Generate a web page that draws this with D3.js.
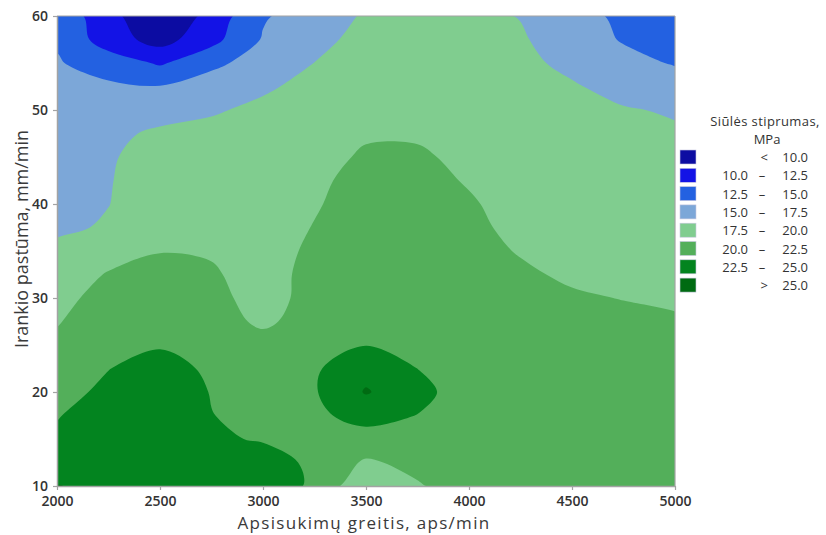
<!DOCTYPE html>
<html>
<head>
<meta charset="utf-8">
<script src="https://cdn.jsdelivr.net/npm/d3@7"></script>
<style>
  body { margin: 0; background: #fff; }
  svg { display: block; font-family: "Open Sans", "Noto Sans", sans-serif; }
</style>
</head>
<body>
<svg id="chart" width="826" height="535"></svg>
<script>
// Spindle speed (aps/min) grid columns
const speeds = [2000, 2250, 2500, 2750, 3000, 3250, 3500, 3750, 4000, 4250, 4500, 4750, 5000];
// Tool feed (mm/min) grid rows
const feeds = [10, 12.5, 15, 17.5, 20, 22.5, 25, 27.5, 30, 32.5, 35, 37.5, 40, 42.5, 45, 47.5, 50, 52.5, 55, 57.5, 60];

// Seam strength, MPa: one row per feed value (bottom row first), one value per speed
const strengthRows = [
  [25.08, 24.4, 24.6, 23.6, 24.3, 21.98, 18.0, 19.8, 21.0, 21.2, 21.3, 21.4, 21.5],
  [23.5, 24.3, 24.6, 23.4, 24.1, 21.75, 19.7, 20.6, 21.1, 21.2, 21.3, 21.4, 21.4],
  [22.94, 24.1, 24.5, 23.0, 22.2, 21.7, 21.5, 21.4, 21.2, 21.2, 21.2, 21.3, 21.3],
  [22.37, 23.7, 24.3, 22.55, 21.9, 22.0, 23.4, 22.45, 21.3, 21.2, 21.1, 21.2, 21.2],
  [21.72, 23.0, 24.0, 22.4, 21.6, 22.3, 25.2, 23.3, 21.2, 21.1, 21.0, 21.1, 21.0],
  [21.09, 22.45, 23.4, 22.1, 21.3, 22.2, 24.2, 22.49, 21.1, 21.0, 20.9, 20.9, 20.8],
  [20.46, 21.9, 22.3, 21.5, 20.9, 21.9, 22.45, 21.9, 21.0, 20.9, 20.7, 20.7, 20.5],
  [19.85, 21.32, 21.6, 21.0, 19.58, 21.0, 21.9, 21.6, 20.9, 20.8, 20.5, 20.4, 20.15],
  [19.4, 20.73, 21.0, 20.6, 19.2, 20.7, 21.6, 21.4, 20.8, 20.6, 20.2, 19.95, 19.8],
  [18.9, 20.14, 20.5, 20.25, 19.1, 20.7, 21.4, 21.3, 20.7, 20.25, 19.75, 19.6, 19.5],
  [18.2, 19.2, 19.95, 19.8, 19.1, 20.4, 21.3, 21.2, 20.5, 19.9, 19.4, 19.3, 19.2],
  [16.97, 17.8, 19.4, 19.5, 18.9, 20.1, 21.2, 21.1, 20.35, 19.6, 19.1, 19.0, 18.9],
  [16.8, 17.45, 18.9, 19.2, 18.7, 19.8, 21.0, 20.9, 20.2, 19.3, 18.8, 18.8, 18.6],
  [16.6, 17.38, 18.6, 18.9, 18.5, 19.6, 20.7, 20.6, 19.85, 19.0, 18.6, 18.6, 18.3],
  [16.4, 17.3, 18.3, 18.6, 18.3, 19.1, 20.35, 20.3, 19.5, 18.8, 18.4, 18.3, 18.0],
  [16.1, 17.1, 17.8, 17.9, 18.0, 18.7, 19.7, 19.75, 19.2, 18.6, 18.2, 18.0, 17.75],
  [15.8, 16.2, 16.8, 17.35, 17.8, 18.35, 19.2, 19.4, 19.0, 18.4, 18.0, 17.65, 17.3],
  [15.5, 15.4, 15.1, 16.4, 17.3, 17.9, 18.8, 19.1, 18.8, 18.2, 17.7, 16.8, 16.2],
  [15.2, 13.83, 12.2, 14.3, 16.3, 17.52, 18.5, 18.9, 18.6, 18.0, 17.0, 15.8, 14.8],
  [14.7, 11.2, 9.0, 11.7, 15.2, 16.9, 18.15, 18.7, 18.3, 17.75, 16.3, 14.8, 14.2],
  [14.2, 10.9, 7.5, 10.9, 14.75, 16.2, 17.78, 18.5, 18.0, 17.42, 15.7, 14.6, 13.7]
];

// Band limits and fills (lowest band first)
const thresholds = [10, 12.5, 15, 17.5, 20, 22.5, 25];
const bandColors = ["#0c0ca2", "#1313e6", "#2361e1", "#7ca7d8", "#80cd8f", "#53af5a", "#03841f", "#006b12"];
const legendLeft = ["<", "10.0", "12.5", "15.0", "17.5", "20.0", "22.5", ">"];
const legendRight = ["10.0", "12.5", "15.0", "17.5", "20.0", "22.5", "25.0", "25.0"];

const xTicks = [2000, 2500, 3000, 3500, 4000, 4500, 5000];
const yTicks = [10, 20, 30, 40, 50, 60];

const svg = d3.select("#chart");
const plot = { left: 57, right: 675, top: 16, bottom: 486 };

const x = d3.scaleLinear().domain([2000, 5000]).range([plot.left, plot.right]);
const y = d3.scaleLinear().domain([10, 60]).range([plot.bottom, plot.top]);

// Contour grid coordinates -> data coordinates (grid values sit at cell centres)
const n = speeds.length, m = feeds.length;
const gx = d3.scaleLinear().domain([0.5, n - 0.5]).range([speeds[0], speeds[n - 1]]);
const gy = d3.scaleLinear().domain([0.5, m - 0.5]).range([feeds[0], feeds[m - 1]]);

const values = strengthRows.flat();
const bands = d3.contours().size([n, m]).thresholds(thresholds)(values);

const ringLine = d3.line()
  .x(p => x(gx(p[0])))
  .y(p => y(gy(p[1])))
  .curve(d3.curveCatmullRomClosed.alpha(0.5));

function bandPath(geom) {
  return geom.coordinates
    .map(poly => poly.map(ring => ringLine(ring.slice(0, -1))).join(""))
    .join("");
}

svg.append("defs").append("clipPath").attr("id", "plot-clip")
  .append("rect")
  .attr("x", plot.left).attr("y", plot.top)
  .attr("width", plot.right - plot.left).attr("height", plot.bottom - plot.top);

const field = svg.append("g").attr("clip-path", "url(#plot-clip)");

// lowest band underneath, each higher band stacked on top
field.append("rect")
  .attr("x", plot.left).attr("y", plot.top)
  .attr("width", plot.right - plot.left).attr("height", plot.bottom - plot.top)
  .attr("fill", bandColors[0]);

field.selectAll("path.band")
  .data(bands)
  .join("path")
  .attr("class", "band")
  .attr("d", bandPath)
  .attr("fill-rule", "evenodd")
  .attr("fill", (d, i) => bandColors[i + 1]);

// frame
const axisGrey = "#a3a3a3";
svg.append("line")
  .attr("x1", plot.left).attr("x2", plot.right)
  .attr("y1", plot.top).attr("y2", plot.top)
  .attr("stroke", axisGrey).attr("stroke-width", 1.2);
svg.append("line")
  .attr("x1", plot.right).attr("x2", plot.right)
  .attr("y1", plot.top).attr("y2", plot.bottom)
  .attr("stroke", axisGrey).attr("stroke-width", 1.2);

// axes
const xAxis = svg.append("g")
  .attr("transform", `translate(0,${plot.bottom})`)
  .call(d3.axisBottom(x).tickValues(xTicks).tickFormat(d3.format("d")).tickSize(4).tickPadding(6).tickSizeOuter(0));
const yAxis = svg.append("g")
  .attr("transform", `translate(${plot.left},0)`)
  .call(d3.axisLeft(y).tickValues(yTicks).tickFormat(d3.format("d")).tickSize(4).tickPadding(5).tickSizeOuter(0));

[xAxis, yAxis].forEach(g => {
  g.select(".domain").attr("stroke", axisGrey).attr("stroke-width", 1.5);
  g.selectAll(".tick line").attr("stroke", axisGrey).attr("stroke-width", 1.2);
  g.selectAll(".tick text")
    .attr("fill", "#333")
    .style("font-size", "14px")
    .style("font-weight", "600")
    .style("font-family", "'Open Sans', 'Noto Sans', sans-serif");
});

// axis titles
svg.append("text")
  .attr("x", 364)
  .attr("y", 528.5)
  .attr("text-anchor", "middle")
  .attr("fill", "#3a3a3a")
  .style("font-size", "17px")
  .style("letter-spacing", "1.3px")
  .text("Apsisukimų greitis, aps/min");

svg.append("text")
  .attr("transform", "translate(28,239) rotate(-90)")
  .attr("text-anchor", "middle")
  .attr("fill", "#3a3a3a")
  .style("font-size", "18px")
  .text("Irankio pastūma, mm/min");

// legend
const legend = svg.append("g");
legend.append("text")
  .attr("x", 765).attr("y", 126)
  .attr("text-anchor", "middle")
  .attr("fill", "#333")
  .style("font-size", "13px")
  .style("letter-spacing", "0.4px")
  .text("Siūlės stiprumas,");
legend.append("text")
  .attr("x", 767).attr("y", 144)
  .attr("text-anchor", "middle")
  .attr("fill", "#333")
  .style("font-size", "13px")
  .text("MPa");

const rowY = i => 157 + i * 18.3;
const items = legend.selectAll("g.item")
  .data(bandColors)
  .join("g")
  .attr("class", "item")
  .attr("transform", (d, i) => `translate(0,${rowY(i)})`);

items.append("rect")
  .attr("x", 680).attr("y", -7)
  .attr("width", 16).attr("height", 14)
  .attr("fill", d => d)
  .attr("stroke", "#c8c8e0").attr("stroke-width", 0.6);

items.append("text")
  .attr("x", (d, i) => (i === 0 || i === bandColors.length - 1) ? 768 : 748)
  .attr("y", 5)
  .attr("text-anchor", "end")
  .attr("fill", "#333")
  .style("font-size", "13px")
  .text((d, i) => legendLeft[i]);

items.filter((d, i) => i > 0 && i < bandColors.length - 1)
  .append("text")
  .attr("x", 762).attr("y", 5)
  .attr("text-anchor", "middle")
  .attr("fill", "#333")
  .style("font-size", "13px")
  .text("–");

items.append("text")
  .attr("x", 808).attr("y", 5)
  .attr("text-anchor", "end")
  .attr("fill", "#333")
  .style("font-size", "13px")
  .text((d, i) => legendRight[i]);
</script>
</body>
</html>
